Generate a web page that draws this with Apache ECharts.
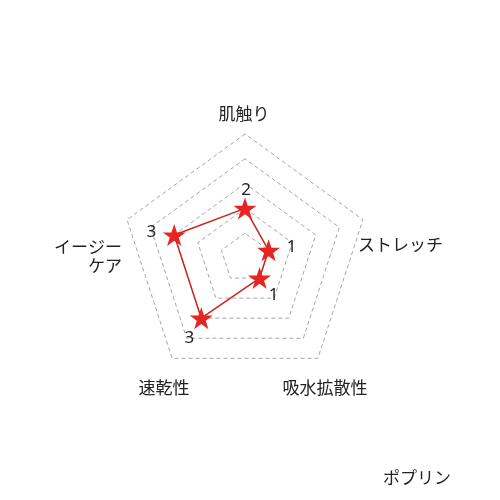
<!DOCTYPE html>
<html>
<head>
<meta charset="utf-8">
<script src="https://cdn.jsdelivr.net/npm/echarts@6/dist/echarts.min.js"></script>
<style>
html,body{margin:0;padding:0;background:#fff;}
#c{width:500px;height:500px;}
</style>
</head>
<body>
<div id="c"></div>
<script>
// Indicators in ECharts drawing order (counter-clockwise from top)
const categories = ['肌触り', 'イージー\nケア', '速乾性', '吸水拡散性', 'ストレッチ'];
const values = [2, 3, 3, 1, 1];
const maxValue = 5;
const chartTitle = 'ポプリン';

// layout only
const namePos = [
  {x: 244, y: 114, align: 'center'},
  {x: 122, y: 256, align: 'right'},
  {x: 164, y: 388, align: 'center'},
  {x: 325, y: 388, align: 'center'},
  {x: 358, y: 245, align: 'left'}
];
const labelOffsets = [[1, -18], [-23, -3], [-12, 20], [14, 17], [23, -3]];

const starPath = 'path://M50,0 L61.8,35.4 L99,35.4 L69.1,57.3 L80.3,92.7 L50,70.8 L19.7,92.7 L30.9,57.3 L1,35.4 L38.2,35.4 Z';
const red = '#e52521';
const lineRed = '#c9261d';

const chart = echarts.init(document.getElementById('c'), null, {renderer: 'canvas'});

const series = [{
  type: 'radar',
  symbol: starPath,
  symbolSize: [23, 22],
  symbolKeepAspect: true,
  itemStyle: {color: red},
  lineStyle: {color: lineRed, width: 1.5},
  z: 2,
  data: [{value: values}]
}];
values.forEach(function (v, i) {
  const vec = values.map(function (_, j) { return j === i ? v : '-'; });
  series.push({
    type: 'radar',
    symbol: 'circle',
    symbolSize: 4,
    itemStyle: {color: 'rgba(0,0,0,0)', borderWidth: 0},
    lineStyle: {width: 0, opacity: 0},
    z: 3,
    silent: true,
    label: {
      show: true,
      position: 'inside',
      offset: labelOffsets[i],
      color: '#222',
      fontSize: 17,
      fontFamily: 'Noto Sans, sans-serif'
    },
    data: [{value: vec}]
  });
});

const graphic = categories.map(function (name, i) {
  const p = namePos[i];
  return {
    type: 'text',
    x: p.x,
    y: p.y,
    style: {
      text: name,
      fill: '#222',
      font: '17px "Noto Sans CJK JP"',
      align: p.align,
      verticalAlign: 'middle',
      lineHeight: 19
    }
  };
});
graphic.push({
  type: 'text',
  x: 417,
  y: 478,
  style: {
    text: chartTitle,
    fill: '#222',
    font: '17px "Noto Sans CJK JP"',
    align: 'center',
    verticalAlign: 'middle'
  }
});

chart.setOption({
  backgroundColor: '#fff',
  animation: false,
  radar: {
    center: [245, 258],
    radius: 124,
    startAngle: 90,
    shape: 'polygon',
    splitNumber: 5,
    indicator: categories.map(function (n) { return {name: n, max: maxValue, min: 0}; }),
    axisName: {show: false},
    axisLine: {show: false},
    axisTick: {show: false},
    axisLabel: {show: false},
    splitArea: {show: false},
    splitLine: {lineStyle: {color: '#a6a6a6', width: 1, type: [4, 3]}}
  },
  graphic: graphic,
  series: series
});
</script>
</body>
</html>
